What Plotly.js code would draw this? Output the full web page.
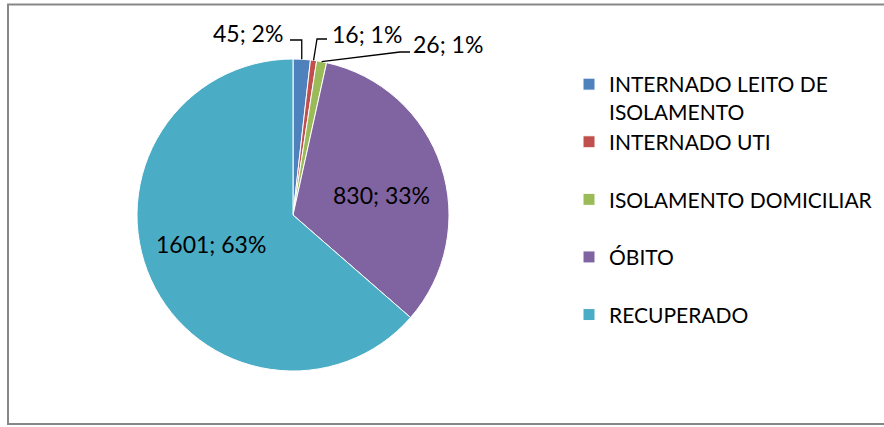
<!DOCTYPE html>
<html>
<head>
<meta charset="utf-8">
<script src="https://cdn.plot.ly/plotly-3.0.1.min.js"></script>
<style>html,body{margin:0;padding:0;background:#fff;}#chart{width:884px;height:427px;}</style>
</head>
<body>
<div id="chart"></div>
<script>
// ---- data ----
const categories = ['INTERNADO LEITO DE ISOLAMENTO', 'INTERNADO UTI', 'ISOLAMENTO DOMICILIAR', 'ÓBITO', 'RECUPERADO'];
const values = [45, 16, 26, 830, 1601];
const percentLabels = ['2%', '1%', '1%', '33%', '63%'];
const colors = ['#4F81BD', '#C0504D', '#9BBB59', '#8064A2', '#4BACC6'];

// ---- layout constants (pixels) ----
const W = 884, H = 427;
const CX = 293, CY = 215, R = 156;
const labelFont = {family: 'Lato, "Open Sans", sans-serif', size: 23, color: '#000'};
const legendFont = {family: 'Lato, "Open Sans", sans-serif', size: 21, color: '#000'};
const labelPos = [
  {x: 248, y: 33}, {x: 367, y: 34}, {x: 448, y: 44}, {x: 381, y: 195}, {x: 211, y: 244}
];
// leader lines: elbow point (mx null => slice edge x) and end point, for outside labels
const leaders = [
  {mx: null, my: 40, ex: 290, ey: 40},
  {mx: 317, my: 39, ex: 327, ey: 39},
  {mx: 400, my: 52, ex: 410, ey: 52}
];

const px = x => x / W;
const py = y => 1 - y / H;

function wrap(text, maxChars) {
  const words = text.split(' ');
  const lines = [];
  let cur = '';
  words.forEach(w => {
    if (cur && (cur + ' ' + w).length > maxChars) { lines.push(cur); cur = w; }
    else cur = cur ? cur + ' ' + w : w;
  });
  if (cur) lines.push(cur);
  while (lines.length < 2) lines.push('\u00a0');
  return lines.join('<br>');
}
const legendNames = categories.map(c => wrap(c, 21));

const total = values.reduce((a, b) => a + b, 0);
let cum = 0;
const edges = values.map(v => {
  const th = 2 * Math.PI * (cum + v / 2) / total;
  cum += v;
  return {x: CX + R * Math.sin(th), y: CY - R * Math.cos(th)};
});

const annotations = values.map((v, i) => ({
  xref: 'paper', yref: 'paper',
  x: px(labelPos[i].x), y: py(labelPos[i].y),
  xanchor: 'center', yanchor: 'middle',
  text: v + '; ' + percentLabels[i],
  showarrow: false, font: labelFont
}));

const shapes = [{
  type: 'rect', xref: 'paper', yref: 'paper',
  x0: px(8), x1: px(900), y0: py(424), y1: py(4.5),
  line: {color: '#878787', width: 2}, fillcolor: 'rgba(0,0,0,0)'
}];
leaders.forEach((l, i) => {
  const e = edges[i];
  const mx = l.mx === null ? e.x : l.mx;
  shapes.push({
    type: 'path', xref: 'paper', yref: 'paper',
    path: `M${px(e.x)},${py(e.y)} L${px(mx)},${py(l.my)} L${px(l.ex)},${py(l.ey)}`,
    line: {color: '#000', width: 1.3}
  });
});

const trace = {
  type: 'pie',
  labels: legendNames,
  values: values,
  sort: false,
  direction: 'clockwise',
  rotation: 0,
  textinfo: 'none',
  hoverinfo: 'label+value+percent',
  marker: {colors: colors, line: {color: '#ffffff', width: 1}},
  domain: {x: [px(CX - R), px(CX + R)], y: [py(CY + R), py(CY - R)]}
};

const layout = {
  width: W, height: H,
  margin: {l: 0, r: 0, t: 0, b: 0},
  paper_bgcolor: '#fff',
  showlegend: true,
  legend: {
    x: px(569), y: py(64), xanchor: 'left', yanchor: 'top',
    font: legendFont, valign: 'top', bgcolor: 'rgba(0,0,0,0)'
  },
  annotations: annotations,
  shapes: shapes
};

Plotly.newPlot('chart', [trace], layout, {displayModeBar: false, staticPlot: true});
</script>
</body>
</html>
